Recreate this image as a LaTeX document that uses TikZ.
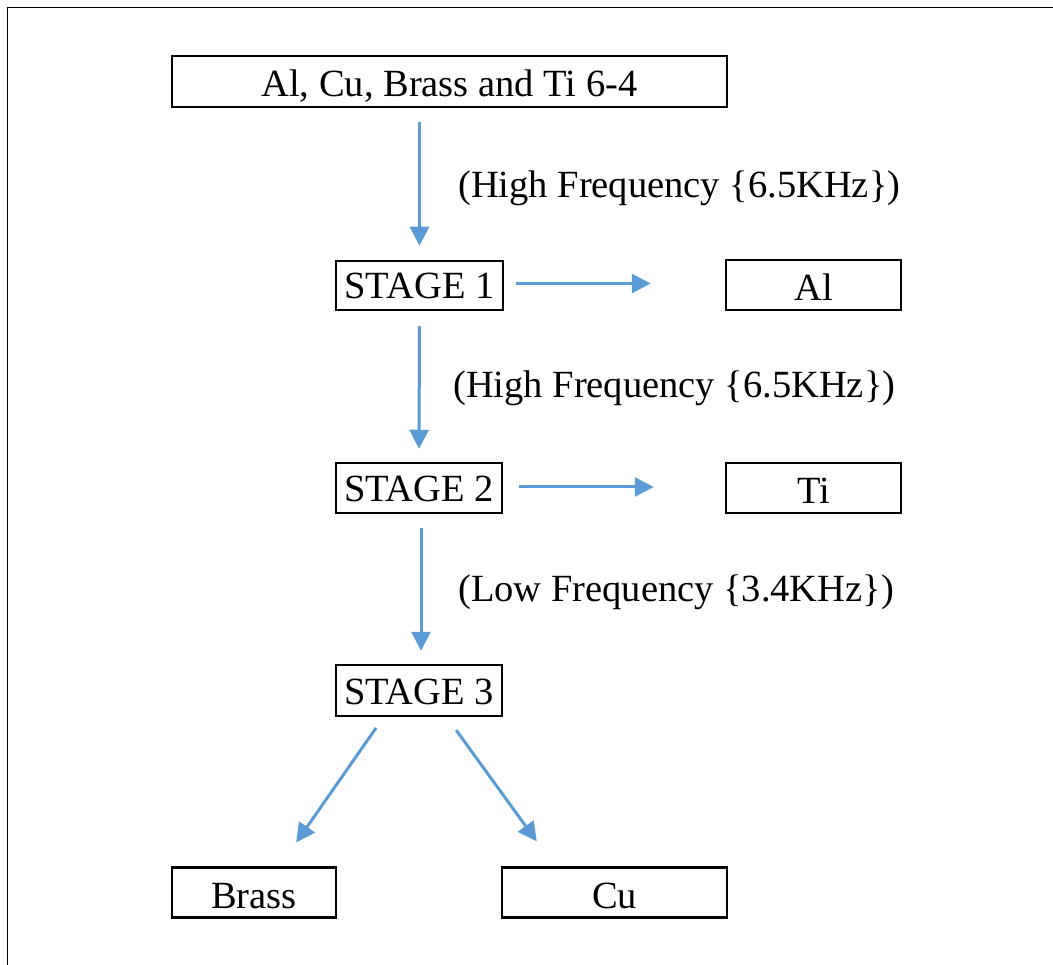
\documentclass[tikz,border=0pt]{standalone}
\usepackage{fontspec}
\setmainfont{Liberation Serif}
\usetikzlibrary{arrows.meta}
\definecolor{arrblue}{RGB}{91,155,213}
\begin{document}
\begin{tikzpicture}[x=1pt,y=-1pt,
  box/.style={draw=black,line width=2.5pt,inner sep=0pt,align=center,
    text height=31pt,text depth=0pt,font=\fontsize{38.5}{46}\selectfont},
  stagebox/.style={box,text height=27pt},
  lbl/.style={anchor=west,inner sep=0pt,font=\fontsize{38.5}{46}\selectfont},
  arr/.style={draw=arrblue,line width=3pt,-{Triangle[length=19pt,width=19pt]}}]
\useasboundingbox (0,0) rectangle (1053,965);
\draw[line width=1pt] (7,965) -- (7,8) -- (1053,8);
\node[box,minimum width=555pt,minimum height=51pt] (top) at (449.5,81.5) {Al, Cu, Brass and Ti 6-4};
\node[stagebox,minimum width=167pt,minimum height=49pt] (s1) at (419.5,285.5) {STAGE 1};
\node[box,minimum width=175pt,minimum height=50pt] (al) at (813.5,285) {Al};
\node[stagebox,minimum width=166pt,minimum height=50pt] (s2) at (419,488) {STAGE 2};
\node[box,minimum width=175pt,minimum height=50pt] (ti) at (813.5,488) {Ti};
\node[stagebox,minimum width=166pt,minimum height=51pt] (s3) at (419,690.5) {STAGE 3};
\node[box,minimum width=164pt,minimum height=50pt] (brass) at (254,892.5) {Brass};
\node[box,minimum width=225pt,minimum height=50pt] (cu) at (614.5,892.5) {Cu};
\node[lbl] (l1) at (458,188) {(High Frequency \{6.5KHz\})};
\node[lbl] (l2) at (453,388) {(High Frequency \{6.5KHz\})};
\node[lbl] (l3) at (458,592) {(Low Frequency \{3.4KHz\})};
\draw[arr,shorten <=14pt,shorten >=14pt] (s1.north |- top.south) -- (s1.north);
\draw[arr,shorten <=15pt,shorten >=13pt] (s1.south) -- (s2.north);
\draw[arr,shorten <=14pt,shorten >=13pt] ([xshift=2pt]s2.south) -- ([xshift=2pt]s3.north);
\draw[arr,shorten <=12pt,shorten >=74pt] ([yshift=2pt]s1.east) -- ([yshift=2pt]s1.east -| al.west);
\draw[arr,shorten <=16pt,shorten >=71pt] ([yshift=1pt]s2.east) -- ([yshift=1pt]s2.east -| ti.west);
\draw[arr,shorten <=13pt,shorten >=29pt] ([xshift=-35.5pt]s3.south) -- ([xshift=25.6pt]brass.north);
\draw[arr,shorten <=16pt,shorten >=30.7pt] ([xshift=27.8pt]s3.south) -- ([xshift=-59.7pt]cu.north);
\end{tikzpicture}
\end{document}
